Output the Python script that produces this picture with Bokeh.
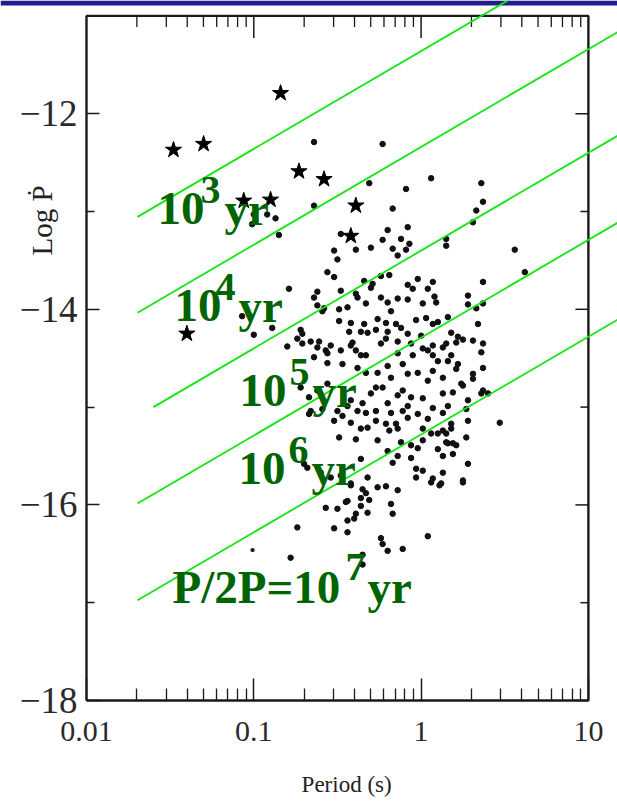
import math
from bokeh.plotting import figure
from bokeh.models import Range1d, FixedTicker, Label
from bokeh.embed import file_html
from bokeh.resources import INLINE

# ---------------- data ----------------
# pulsars: log10 period (s) and log10 period derivative
log_period = [
    -0.64, -0.23, -0.31, 0.06, 0.36, -0.09, 0.37, -0.64, -0.17, 0.33, 0.31, -1.00, -0.92, -0.87, -1.01,
    -0.85, -0.48, -0.08, -0.20, -0.23, -0.12, -0.07, 0.15, 0.15, -0.30, -0.17, -0.09, -0.39, -0.52, -0.14,
    -0.50, 0.56, 0.62, -0.56, -0.52, -0.24, -0.19, -0.34, -0.29, -0.30, -0.02, 0.07, 0.37, -0.08, -0.05,
    0.04, -0.79, -0.62, -0.48, -0.39, -0.24, -0.38, -0.14, -0.08, 0.08, 0.09, 0.28, 0.28, 0.37, 0.33,
    -0.64, -0.62, -0.58, -0.49, -0.44, -0.59, -0.33, -0.20, 0.01, -0.18, -0.03, 0.03, 0.10, 0.16, 0.34,
    -0.49, -0.42, -0.34, -0.26, -0.21, -0.15, -0.12, -0.27, -0.43, -0.36, -0.32, -0.20, -0.08, 0.00, 0.07,
    0.18, 0.22, 0.25, 0.31, 0.21, 0.15, 0.37, -0.72, -0.74, -0.66, -0.61, -0.54, -0.41, -0.39, -0.24,
    -0.21, -0.14, -0.06, 0.04, 0.13, 0.36, -0.80, -0.57, -0.48, -0.33, -0.14, 0.07, -1.07, -0.89, -1.00,
    -0.71, -0.71, -0.56, -0.64, -0.62, -0.42, -0.36, -0.11, -0.05, 0.01, 0.07, 0.10, 0.18, 0.22, 0.37,
    -0.56, -0.47, -0.38, -0.33, -0.26, -0.20, -0.18, -0.08, -0.02, 0.04, 0.07, 0.13, 0.24, 0.31, 0.37,
    -0.72, -0.62, -0.56, -0.42, -0.44, -0.35, -0.30, -0.27, -0.23, -0.14, -0.11, -0.06, 0.01, 0.07, 0.13,
    0.19, 0.16, 0.28, 0.36, -0.66, -0.59, -0.50, -0.47, -0.38, -0.33, -0.27, -0.20, -0.18, -0.11, -0.08,
    -0.08, -0.02, 0.04, 0.13, 0.18, 0.28, 0.47, -0.52, -0.42, -0.36, -0.32, -0.27, -0.21, -0.19, -0.15,
    -0.14, 0.01, 0.06, 0.10, 0.13, 0.18, -0.49, -0.39, -0.26, -0.20, -0.12, -0.06, -0.02, 0.01, 0.10,
    0.15, 0.19, 0.27, -0.36, -0.17, -0.14, -0.06, 0.13, 0.19, 0.28, -0.70, -0.60, -0.54, -0.48, -0.32,
    -0.42, -0.26, -0.21, -0.14, -0.03, 0.01, -0.03, 0.07, 0.13, 0.12, 0.25, 0.16, 0.21, 0.31, 0.25,
    0.40, 0.27, 0.15, 0.16, 0.21, -0.67, -0.67, -0.68, -0.44, -0.36, -0.33, -0.57, -0.50, -0.39, -0.32,
    -0.18, -0.17, -0.44, -0.40, -0.74, -0.52, -0.44, 0.04, -0.24, -0.23, -0.20, -0.11, -0.42, -0.35,
    0.06, 0.11, 0.25, -0.45, -0.36, -0.31, -0.78, -0.35, -0.35,
]
log_pdot = [
    -12.29, -12.31, -12.71, -12.66, -12.71, -12.77, -12.90, -12.94, -12.97, -12.99, -13.11, -13.03, -13.03, -13.07, -13.13,
    -13.24, -13.23, -13.16, -13.19, -13.29, -13.28, -13.33, -13.28, -13.35, -13.37, -13.38, -13.39, -13.39, -13.40, -13.45,
    -13.49, -13.39, -13.62, -13.62, -13.67, -13.66, -13.65, -13.71, -13.74, -13.78, -13.69, -13.72, -13.72, -13.75, -13.79,
    -13.79, -13.79, -13.82, -13.81, -13.84, -13.88, -13.88, -13.89, -13.90, -13.87, -13.93, -13.86, -13.95, -13.94, -13.99,
    -13.88, -13.96, -13.99, -14.00, -13.98, -14.02, -13.94, -13.93, -13.94, -14.02, -14.11, -14.09, -14.13, -14.08, -14.15,
    -14.12, -14.14, -14.15, -14.10, -14.14, -14.15, -14.19, -14.21, -14.23, -14.23, -14.24, -14.23, -14.25, -14.27, -14.15,
    -14.24, -14.28, -14.31, -14.32, -14.34, -14.35, -14.35, -14.21, -14.30, -14.33, -14.33, -14.37, -14.34, -14.42, -14.35,
    -14.30, -14.33, -14.35, -14.42, -14.39, -14.44, -14.38, -14.42, -14.42, -14.47, -14.45, -14.47, -14.07, -14.19, -14.26,
    -14.25, -14.35, -14.45, -14.49, -14.39, -14.37, -14.47, -14.56, -14.47, -14.40, -14.37, -14.53, -14.47, -14.56, -14.60,
    -14.55, -14.56, -14.60, -14.65, -14.65, -14.58, -14.70, -14.66, -14.65, -14.73, -14.63, -14.70, -14.76, -14.66, -14.83,
    -14.80, -14.83, -14.76, -14.93, -14.99, -14.96, -14.86, -14.80, -14.80, -14.88, -14.83, -14.90, -14.91, -15.01, -14.86,
    -14.85, -14.99, -14.93, -14.86, -15.04, -15.02, -15.04, -15.09, -15.04, -15.06, -15.04, -14.96, -15.06, -15.04, -14.99,
    -15.11, -15.07, -15.12, -15.06, -15.17, -15.14, -15.16, -15.14, -15.16, -15.22, -15.21, -15.14, -15.17, -15.24, -15.17,
    -15.22, -15.22, -15.27, -15.27, -15.24, -15.22, -15.31, -15.33, -15.34, -15.45, -15.36, -15.39, -15.42, -15.34, -15.43,
    -15.36, -15.37, -15.31, -15.53, -15.57, -15.50, -15.52, -15.50, -15.48, -15.58, -15.58, -15.67, -15.72, -15.70, -15.72,
    -15.78, -15.82, -15.81, -15.85, -15.63, -15.65, -15.72, -15.73, -15.67, -15.78, -15.75, -14.53, -14.61, -14.71, -14.78,
    -14.86, -15.02, -15.27, -15.37, -15.39, -14.90, -15.07, -15.62, -15.96, -15.93, -15.88, -16.03, -16.04, -16.09, -16.08,
    -15.99, -16.09, -16.16, -16.14, -16.23, -16.24, -16.28, -16.32, -16.34, -16.40, -16.47, -16.45, -15.80, -15.84,
    -15.77, -15.80, -15.77, -15.97, -16.01, -15.95, -16.54, -16.51, -16.61,
]
# star symbols (SNR associations)
star_log_period = [-0.84, -1.48, -1.30, -0.73, -0.58, -0.90, -1.06, -0.39, -0.42, -1.40]
star_log_pdot = [-11.79, -12.37, -12.31, -12.59, -12.67, -12.88, -12.89, -12.94, -13.25, -14.25]

# constant characteristic-age lines: log Pdot = log P + offset
age_exponents = ["3", "4", "5", "6", "7"]
age_line_offset = [-11.36, -12.34, -13.40, -14.29, -15.28]
age_line_start_logp = [-1.695, -1.695, -1.60, -1.695, -1.695]

x_ticks = [0.01, 0.1, 1, 10]
x_tick_labels = ["0.01", "0.1", "1", "10"]
x_minor = [m * d for d in (0.01, 0.1, 1) for m in range(2, 10)]
y_ticks = [-18, -16, -14, -12]
y_tick_labels = ["\u221218", "\u221216", "\u221214", "\u221212"]
y_minor = [-17, -15, -13]

# ---------------- layout geometry (page pixels) ----------------
W, H = 617, 802
BAR = 5                     # navy strip at the top of the slide
LEFT, BOTTOM = 86, 700      # scanned frame: left / bottom
PX_DEC = 167.3              # pixels per decade of period
PX_UNIT = 97.8              # pixels per unit of log Pdot
X_MIN, Y_MIN = 0.01, -18.0
X_FRAME_MAX, Y_FRAME_MAX = 10.0, -11.0


def dx(px):  # page x pixel -> period
    return 10 ** (math.log10(X_MIN) + (px - LEFT) / PX_DEC)


def dy(py):  # page y pixel -> log Pdot
    return Y_MIN + (BOTTOM - py) / PX_UNIT


p = figure(width=W, height=H, x_axis_type="log",
           x_range=Range1d(dx(0), dx(W)), y_range=Range1d(dy(H), dy(0)),
           output_backend="svg", toolbar_location=None,
           min_border=0, min_border_left=0, min_border_right=0,
           min_border_top=0, min_border_bottom=0)
p.outline_line_color = None
p.grid.visible = False
p.background_fill_color = "white"
p.border_fill_color = "white"

ink = "#1a1a1a"
# x axis, drawn on the bottom edge of the scanned frame
xa = p.xaxis[0]
xa.fixed_location = Y_MIN
xa.ticker = FixedTicker(ticks=x_ticks, minor_ticks=x_minor)
xa.major_label_overrides = {t: l for t, l in zip(x_ticks, x_tick_labels)}
xa.axis_line_color = None
xa.major_tick_in, xa.major_tick_out = 22, 0
xa.minor_tick_in, xa.minor_tick_out = 12, 0
xa.major_tick_line_color = ink
xa.minor_tick_line_color = ink
xa.major_tick_line_width = 1.5
xa.minor_tick_line_width = 1.3
xa.major_label_text_font = "Liberation Serif"
xa.major_label_text_font_size = "30px"
xa.major_label_text_color = "#2a2a2a"
xa.major_label_standoff = 21
# y axis, drawn on the left edge of the scanned frame
ya = p.yaxis[0]
ya.fixed_location = X_MIN
ya.ticker = FixedTicker(ticks=y_ticks, minor_ticks=y_minor)
ya.major_label_overrides = {t: l for t, l in zip(y_ticks, y_tick_labels)}
ya.axis_line_color = None
ya.major_tick_in, ya.major_tick_out = 13, 0
ya.minor_tick_in, ya.minor_tick_out = 8, 0
ya.major_tick_line_color = ink
ya.minor_tick_line_color = ink
ya.major_tick_line_width = 1.5
ya.minor_tick_line_width = 1.3
ya.major_label_text_font = "Liberation Serif"
ya.major_label_text_font_size = "37px"
ya.major_label_text_color = "#2a2a2a"
ya.major_label_standoff = 9

# navy strip of the slide
p.quad(left=[dx(0)], right=[dx(W)], top=[dy(0)], bottom=[dy(BAR)],
       fill_color="#1e1e8c", line_color=None)

# frame box of the scanned figure
p.line([X_MIN, X_FRAME_MAX, X_FRAME_MAX, X_MIN, X_MIN],
       [Y_MIN, Y_MIN, Y_FRAME_MAX, Y_FRAME_MAX, Y_MIN], line_color=ink, line_width=2.4)

# top ticks (hanging from the top frame) and right ticks
top_major = [t for t in x_ticks if X_MIN < t < X_FRAME_MAX]
p.segment(x0=top_major, y0=[Y_FRAME_MAX] * len(top_major), x1=top_major,
          y1=[Y_FRAME_MAX - 22 / PX_UNIT] * len(top_major), line_color=ink, line_width=1.5)
p.segment(x0=x_minor, y0=[Y_FRAME_MAX] * len(x_minor), x1=x_minor,
          y1=[Y_FRAME_MAX - 11 / PX_UNIT] * len(x_minor), line_color=ink, line_width=1.3)
r_ticks = y_ticks + y_minor
r_len = [13 if t in y_ticks else 8 for t in r_ticks]
p.segment(x0=[X_FRAME_MAX] * len(r_ticks), y0=r_ticks,
          x1=[10 ** (1 - L / PX_DEC) for L in r_len], y1=r_ticks, line_color=ink, line_width=1.5)

# pulsars
p.scatter([10 ** v for v in log_period], log_pdot, size=5.5, color="#111111")
p.scatter([10 ** v for v in star_log_period], star_log_pdot, marker="star",
          size=17, color="#000000")

# characteristic age lines
x_end = 1.3
p.segment(x0=[10 ** s for s in age_line_start_logp],
          y0=[s + o for s, o in zip(age_line_start_logp, age_line_offset)],
          x1=[10 ** x_end] * 5, y1=[x_end + o for o in age_line_offset],
          line_color="#12e612", line_width=1.8)

# green labels: (main text, its left x, baseline y, superscript x, sup baseline, "yr" x)
green = "#006400"
FS, FS_SUP = "47px", "40px"
label_layout = [
    ("10", 157, 208, 200, 189, 224),
    ("10", 174, 305, 215, 286, 238),
    ("10", 239, 390, 289, 371, 312),
    ("10", 238, 468, 288, 449, 311),
    ("P/2P=10", 172, 586, 345, 566, 367),
]
for (main, mx, my, sx, sy, yx), e in zip(label_layout, age_exponents):
    for txt, x, y, fs in ((main, mx, my, FS), (e, sx, sy, FS_SUP), ("yr", yx, my, FS)):
        p.add_layout(Label(x=dx(x), y=dy(y), text=txt, text_font="Liberation Serif",
                           text_font_style="bold", text_font_size=fs, text_color=green,
                           text_baseline="alphabetic", text_align="left"))
# overdot of the second P in P/2P
p.add_layout(Label(x=dx(252), y=dy(543), text=".", text_font="Liberation Serif",
                   text_font_style="bold", text_font_size="26px", text_color="#1a1a1a",
                   text_align="center", text_baseline="alphabetic"))

# axis titles of the scan
p.add_layout(Label(x=dx(349), y=dy(784), text="Period  (s)", text_font="Liberation Serif",
                   text_font_size="23px", text_color="#222222", text_align="center",
                   text_baseline="middle"))
p.add_layout(Label(x=dx(41), y=dy(220), text="Log \u1E56", text_font="Liberation Serif",
                   text_font_size="29px", text_color="#222222", text_align="center",
                   text_baseline="middle", angle=math.pi / 2))

open("out.html", "w").write(file_html(p, INLINE))
